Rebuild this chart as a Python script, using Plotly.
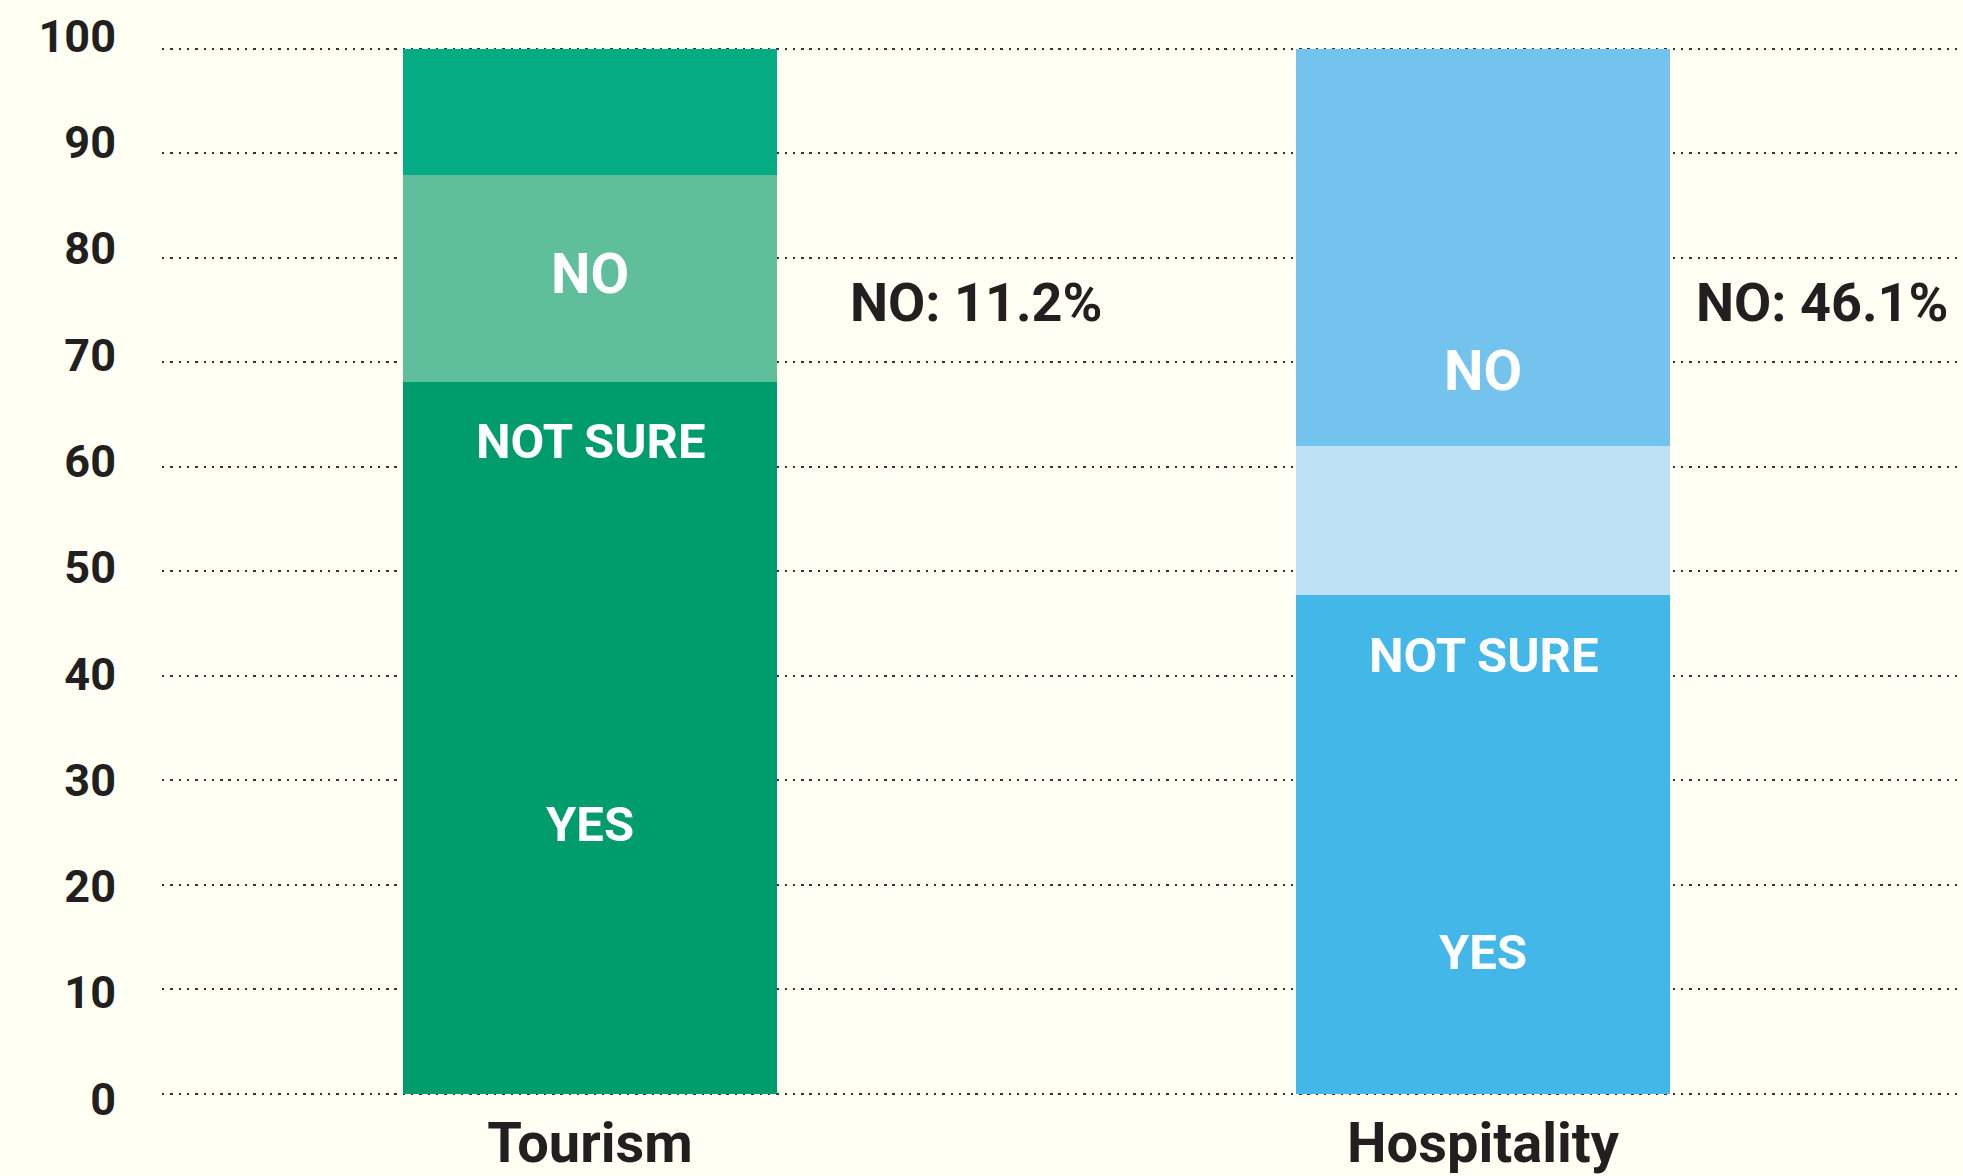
import plotly.graph_objects as go

# ---- data ----
categories = ["Tourism", "Hospitality"]
yes_values = [68.1, 47.7]
not_sure_values = [19.8, 14.3]
no_values = [12.1, 38.0]
y_tick_values = [0, 10, 20, 30, 40, 50, 60, 70, 80, 90, 100]
y_tick_labels = ["0", "10", "20", "30", "40", "50", "60", "70", "80", "90", "100"]

# labels drawn inside the bars (text, value position on the y scale)
inner_labels = ["NO", "NOT SURE", "YES"]
inner_label_y = {
    "Tourism": [78.4, 62.4, 25.8],
    "Hospitality": [69.2, 41.9, 13.5],
}
callout_texts = ["NO: 11.2%", "NO: 46.1%"]
callout_y = [75.7, 75.7]
callout_x_offset = [0.289, 0.236]

# ---- styles ----
BG = "#FFFFF3"
INK = "#231F20"
FONT = "Roboto"
colors_bottom = ["#009C6B", "#43B7E7"]
colors_middle = ["#5FBE9C", "#BEE0F5"]
colors_top = ["#05AB82", "#73C3EE"]

fig = go.Figure()
for name, vals, cols in [
    ("YES", yes_values, colors_bottom),
    ("NOT SURE", not_sure_values, colors_middle),
    ("NO", no_values, colors_top),
]:
    fig.add_trace(go.Bar(
        x=categories, y=vals, name=name,
        marker=dict(color=cols, line=dict(width=0)),
        width=0.419, hoverinfo="x+y+name",
    ))

# empty helper trace so the label axis (y2) is created
fig.add_trace(go.Scatter(x=[], y=[], yaxis="y2", showlegend=False, hoverinfo="skip"))

annotations = []
for ci, cat in enumerate(categories):
    for lab, yv in zip(inner_labels, inner_label_y[cat]):
        size = 56 if lab == "NO" else 49
        annotations.append(dict(
            x=ci, y=yv, xref="x", yref="y", text=lab, showarrow=False,
            xanchor="center", yanchor="middle",
            font=dict(family=FONT, size=size, color="white", weight="bold"),
        ))
    annotations.append(dict(
        x=ci + callout_x_offset[ci], y=callout_y[ci], xref="x", yref="y",
        text=callout_texts[ci], showarrow=False,
        xanchor="left", yanchor="middle",
        font=dict(family=FONT, size=54, color=INK, weight="bold"),
    ))

fig.update_layout(
    width=1963, height=1176,
    barmode="stack",
    showlegend=False,
    paper_bgcolor=BG, plot_bgcolor="rgba(0,0,0,0)",
    margin=dict(l=162, r=0, t=30, b=66),
    annotations=annotations,
    xaxis=dict(
        range=[-0.4793, 1.5375],
        showgrid=False, zeroline=False, showline=False,
        ticks="", ticklabelstandoff=8,
        tickfont=dict(family=FONT, size=56, color=INK, weight="bold"),
    ),
    yaxis=dict(
        domain=[0.009315, 0.98550],
        range=[-0.3, 100.3],
        tickvals=y_tick_values,
        showticklabels=False,
        showgrid=True, gridcolor="#333333", gridwidth=2.4,
        griddash="2.4px,5.9px",
        zeroline=False, showline=False, ticks="",
    ),
    yaxis2=dict(
        domain=[0, 1],
        anchor="free", position=0, side="left",
        range=[-0.75, 100.56],
        tickvals=y_tick_values, ticktext=y_tick_labels,
        showgrid=False, zeroline=False, showline=False, ticks="",
        ticklabelstandoff=46,
        tickfont=dict(family=FONT, size=45, color=INK, weight="bold"),
    ),
)

fig.write_html(
    "out.html",
    config={"displayModeBar": False},
    post_script="document.body.style.margin='0';document.body.style.overflow='hidden';document.body.style.background='#FFFFF3';",
)
